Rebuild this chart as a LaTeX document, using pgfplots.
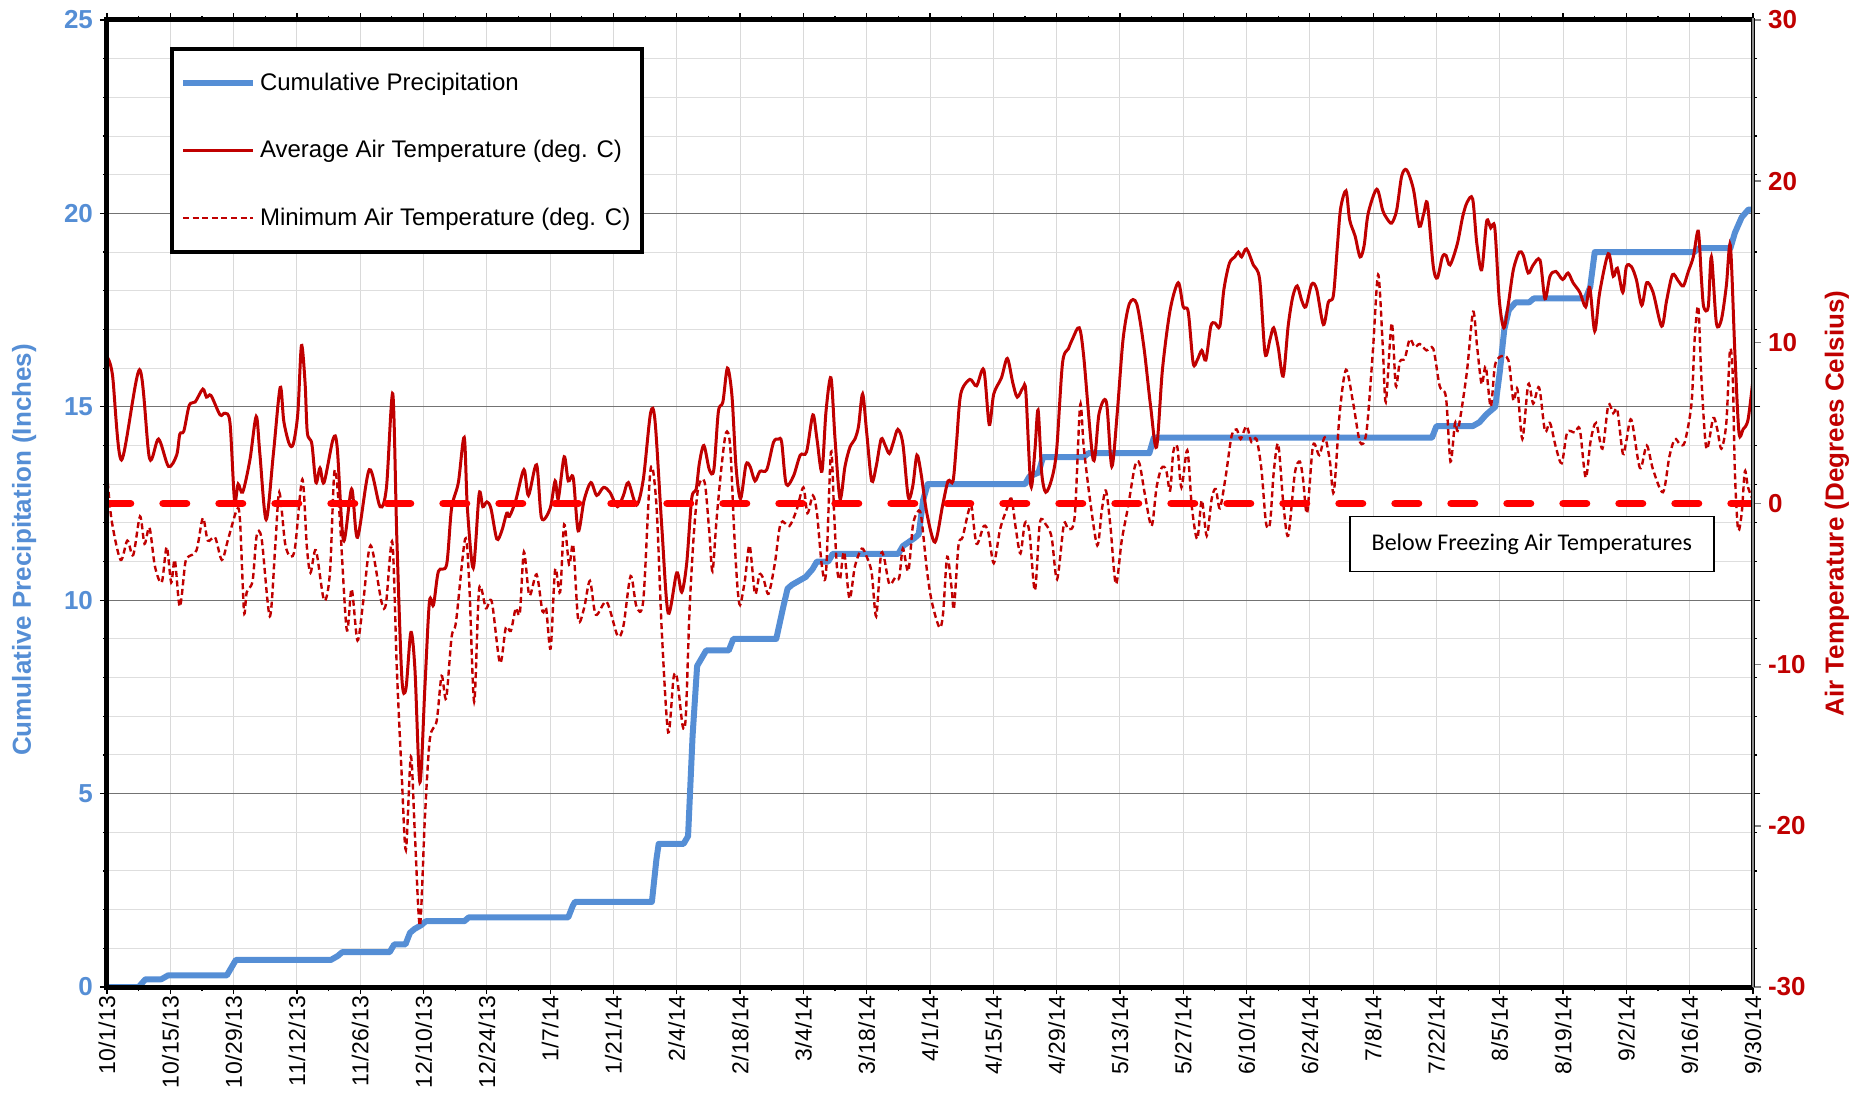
\documentclass[border=0pt]{standalone}
\usepackage{pgfplots}
\pgfplotsset{compat=1.18}
\usepackage{pgfplotstable}
\usepackage{fontspec}
\setmainfont{Liberation Sans}
\newfontfamily\carlito{Carlito}
\newfontfamily\tickfont[LetterSpace=2]{Liberation Sans}
\definecolor{precipblue}{RGB}{85,142,213}
\definecolor{tempred}{RGB}{192,0,0}
\definecolor{freezered}{RGB}{255,0,0}

\pgfplotstableread{
day p
0 0
7 0
8.5 0.2
12 0.2
13.5 0.3
26.5 0.3
28 0.6
28.5 0.7
49.5 0.7
51 0.8
52 0.9
62.5 0.9
63.5 1.1
66 1.1
67 1.4
68 1.5
69.5 1.6
70.5 1.7
79 1.7
80 1.8
102 1.8
103 2.1
103.5 2.2
120.5 2.2
121.5 3.3
122 3.7
127.5 3.7
128.5 3.9
129.5 6.5
130.5 8.3
131.5 8.5
132.5 8.7
137.5 8.7
138.5 9.0
148 9.0
149.5 9.8
150.5 10.3
151.5 10.4
153 10.5
154.5 10.6
156 10.8
157 11.0
159.5 11.0
160.5 11.2
175 11.2
176 11.4
178.5 11.6
179.5 11.7
180.5 12.6
181.5 13.0
203 13.0
204 13.2
206 13.3
207 13.7
216 13.7
217 13.8
230.5 13.8
231.5 14.2
293 14.2
294 14.5
302 14.5
303.5 14.6
305 14.8
307 15.0
308 15.9
309 17.0
310 17.5
311.5 17.7
314.5 17.7
315.5 17.8
327 17.8
328 18.1
329 19.0
351 19.0
352 19.1
359 19.1
360 19.5
361.5 19.9
363 20.1
364 20.1
}\precip

\pgfplotstableread{
day t
0 9.1
1.2 8.0
3.2 2.7
7.2 8.3
9.4 2.8
11.4 4.0
13.6 2.3
15.4 3.0
16.1 4.3
17 4.5
18.2 6.1
19.5 6.3
21.2 7.1
22 6.6
23 6.7
25 5.5
26.1 5.6
27.2 5.0
28.2 0.2
29 1.2
30 0.7
31.6 2.7
33 5.4
33.8 3.1
35.2 -1.0
36.8 3.1
38.3 7.2
39.1 5.1
40.3 3.7
41.2 3.7
42.2 5.6
43 9.8
43.8 7.5
44.3 4.4
45.3 3.7
46.2 1.3
47.1 2.2
48 1.3
50 4.0
50.9 3.5
52.3 -2.3
54.1 0.9
55.4 -2.1
58 2.1
60.4 -0.2
61.8 1.0
63.2 6.8
64.1 -2.2
65.2 -10.8
66.1 -11.5
67.2 -8.0
68.1 -10.3
69.2 -17.3
70.3 -11.4
71.3 -6.1
72.2 -6.3
73.3 -4.2
75.1 -3.8
76.2 -0.3
77.7 1.3
79 4.1
79.7 -0.3
81 -4.0
82.3 0.6
83.1 -0.2
84 0.1
84.9 -0.3
86.2 -2.2
87.3 -1.7
88.4 -0.6
89 -0.8
90.4 0.2
92.2 2.1
93.2 0.5
95 2.4
96.1 -0.9
98 -0.3
99.1 1.4
99.8 0.3
101.1 2.9
102 1.4
103.1 1.6
104.2 -1.7
105.5 0.2
107 1.3
108.3 0.5
109.8 1.0
111.2 0.7
112.9 -0.2
114.2 0.5
115.3 1.3
117.1 -0.1
118.6 1.5
120.2 5.6
121.2 5.1
122.7 -1.5
124.1 -6.8
126 -4.3
127.1 -5.5
128.2 -3.7
129.3 0.3
130.3 0.9
131 2.5
132 3.6
133.2 2.1
134.2 2.1
135.2 5.7
136.2 6.3
137.2 8.4
138.2 6.7
139.1 2.3
140.1 0.3
141.3 2.4
142.2 2.3
143.3 1.4
144.4 2.0
145.9 2.1
147.4 3.8
148.5 4.0
149.2 3.8
150.2 1.2
151.8 1.7
153.3 3.0
154.7 3.2
156.1 5.5
157 4.0
158.1 2.0
159 5.7
160.1 7.8
161 4.0
162.1 0.3
163.2 2.3
164.3 3.5
165.4 4.0
166.2 4.8
167.1 6.8
168 4.4
169.1 1.4
170.1 2.3
171.2 4.0
172.1 3.6
173 3.1
173.9 3.8
174.9 4.6
176 3.7
177.2 0.4
178.2 1.1
179.1 3.0
180 1.9
181.3 -0.6
183.1 -2.4
184.8 -0.1
186 1.4
187.1 1.4
187.9 3.9
188.8 6.8
190.8 7.7
192.3 7.3
193.9 8.3
195.1 4.9
196.1 6.8
197.8 7.8
199.1 9.0
200.3 7.5
201.3 6.6
202.6 7.2
203.2 6.9
204.3 1.1
205.2 3.3
205.9 5.8
206.7 1.9
207.6 0.7
208.9 1.5
210 3.3
211.3 8.7
212.6 9.6
213.5 10.2
215 10.9
216 9.1
218.1 2.7
219.4 5.6
221 6.3
222.2 2.3
223.4 5.6
224.7 10.2
226.1 12.4
227.7 12.4
229.3 9.7
230.8 6.0
232.1 3.5
233.4 8.3
235.1 12.0
236.9 13.7
238 12.2
239.1 11.9
240.2 8.7
241.1 8.9
242.1 9.5
243 8.9
244.1 11.0
245 11.2
246.1 11.0
247 13.3
248.2 14.9
249.4 15.3
250.2 15.6
250.9 15.3
252 15.8
253.5 14.8
254.9 13.9
256.1 9.3
257.2 10.2
258 10.9
259 9.7
260.1 7.9
261.2 11.0
262.2 12.8
263.2 13.5
264.2 12.6
265.1 12.2
266.4 13.6
267.5 13.3
269 11.1
270.1 12.5
271.2 12.9
272.1 16.0
272.8 18.3
274 19.4
274.8 17.6
276 16.6
277.1 15.3
278 16.0
278.9 18.0
280.8 19.5
282.1 18.2
283 17.7
284.1 17.4
285.2 18.2
286.3 20.3
287.4 20.7
288.9 19.5
290.2 17.2
291.2 18.0
292 18.6
293.3 14.7
294.2 14.0
295.3 15.3
296.1 15.4
297 14.8
298.6 16.1
299.8 17.8
300.8 18.7
302 18.9
302.9 16.2
304 14.5
305.1 17.5
306 17.1
306.9 17.1
307.9 12.6
308.9 10.9
309.9 12.4
311 14.5
312.3 15.6
313.2 15.4
314.3 14.3
315.4 14.8
316.9 15.1
318 12.7
319.1 14.1
320.4 14.4
321.9 13.9
323.1 14.3
324.2 13.7
325.7 13.1
327 12.2
327.9 13.4
329 10.7
330.1 13.1
332 15.5
333.1 14.1
334 14.6
335.2 13.1
336 14.7
337.1 14.7
338.2 13.9
339.4 12.3
340.5 13.7
341.9 13.1
343.8 11.0
344.9 12.6
346.2 14.2
347.5 13.8
348.6 13.5
349.7 14.4
350.8 15.3
351.9 16.9
352.6 13.9
353.1 12.2
354.1 12.2
354.8 15.3
355.9 11.2
357 11.4
358.1 13.5
359 16.0
360 9.3
360.9 4.4
361.8 4.6
362.9 5.2
364 7.7
}\avgT

\pgfplotstableread{
day t
0 1.9
1 -1.0
3 -3.5
4.5 -2.3
5.8 -3.2
7.3 -0.8
8.3 -2.5
9.4 -1.5
10.6 -3.9
12.1 -4.9
13.2 -2.7
14.2 -4.9
15 -3.5
16.1 -6.4
17.3 -3.7
18 -3.3
19.8 -2.9
21.2 -0.9
22.3 -2.3
23.9 -2.1
25.4 -3.5
26.8 -2.2
28.7 -0.4
29.4 -1.0
30.3 -6.7
30.9 -5.5
32.2 -4.8
33.1 -2.0
34.2 -2.2
36 -7.0
37.2 -2.7
38.1 0.7
39.4 -2.5
40.6 -3.3
41.6 -2.7
43.2 1.5
44.2 -2.7
45 -4.3
46.2 -2.9
48 -6.0
49.3 -4.3
50.3 2.0
51.4 -0.6
53 -7.8
54.1 -5.3
55.4 -8.5
56.7 -6.0
58.3 -2.6
60.7 -6.1
61.7 -6.2
63.1 -2.4
64.1 -10.3
65.2 -17.0
66.1 -21.5
67.2 -15.7
68.1 -20.6
69.2 -26.2
70.3 -19.5
71.4 -14.6
72.9 -13.5
74 -10.7
75 -12.1
76.2 -8.3
77.2 -7.3
79.2 -2.2
80.1 -4.9
81.2 -12.3
82.3 -5.3
83.8 -6.5
85.1 -6.1
86.9 -9.9
88.2 -7.7
89.3 -7.9
90.4 -6.5
91.3 -6.8
92.2 -3.0
93.4 -5.7
95 -4.4
96.3 -6.7
97.1 -6.5
98.1 -9.0
99.1 -4.1
100.2 -5.5
101.1 -1.3
102.2 -3.8
103.1 -2.6
104.2 -7.2
105.5 -6.5
106.8 -4.8
108.1 -6.9
110.5 -6.1
112.9 -8.2
114.2 -7.6
115.8 -4.5
117.1 -6.4
118.6 -6.0
120.2 2.1
121.5 -0.1
122.7 -8.0
124.1 -14.2
125.3 -10.8
126.1 -10.9
127.3 -13.8
128 -13.2
128.8 -6.8
129.7 -2.2
130.6 0.7
131.5 1.5
132.3 1.1
133.2 -1.8
133.9 -4.2
134.8 -1.0
135.9 2.3
136.9 4.4
137.8 3.6
138.7 -1.8
139.4 -5.1
140 -6.3
141.1 -4.7
142.1 -2.6
143.3 -5.6
144.3 -4.4
145.2 -4.7
146.3 -5.6
147.7 -3.7
149 -1.2
150.9 -1.4
152.5 -0.4
154 1.0
154.9 -0.6
156.1 0.5
157 -0.6
158.1 -3.9
159 -4.3
160.1 3.2
160.8 -0.6
161.4 -3.9
162.1 -4.7
163 -3.0
164.2 -5.9
165.4 -3.9
166.9 -2.8
168 -3.3
169.1 -4.3
170.1 -7.0
171.1 -3.3
171.8 -3.3
173 -5.0
174.3 -4.6
175.2 -4.6
176 -2.8
177.2 -4.2
178.2 -1.4
179.1 -0.6
180 -0.7
181.3 -4.1
182.4 -6.1
184.1 -7.7
184.9 -6.8
185.8 -3.3
186.8 -5.3
187.3 -6.5
188.3 -2.6
189.2 -2.1
190.5 -0.5
191.2 -0.2
192.3 -2.5
193.9 -1.4
194.9 -1.8
196.1 -3.7
197.5 -1.6
198.9 -0.4
200 0.3
201 -1.6
202 -3.1
203 -1.2
204 -1.8
205.2 -5.4
206.3 -1.2
207.6 -1.3
208.9 -2.1
210.1 -4.7
211.6 -1.3
212.6 -1.6
214 -0.8
215.2 6.1
216 3.5
217.4 0.2
219 -2.6
220 -0.4
220.9 0.8
221.9 -1.4
223.1 -5.0
224.4 -2.3
225.8 -0.2
227.3 2.3
228.3 2.5
229.5 0.6
231 -1.4
232.1 1.0
233.2 2.2
234.2 2.1
235.1 0.8
235.8 3.2
236.7 3.5
237.6 1.0
238.9 3.3
239.9 -0.2
241.1 -2.2
242.1 0.2
243.2 -2.0
244.3 0.3
245.2 0.9
246.1 -0.3
247.4 1.7
248.7 4.2
249.8 4.6
250.7 4.0
252 4.8
253.1 3.8
254.2 4.0
255.3 2.1
256.3 -1.2
257.2 -1.2
258 1.9
259 3.7
260.1 0.1
261.2 -2.0
262.7 1.9
263.8 2.6
264.5 1.5
265.4 -0.6
266.7 3.6
268.1 3.0
269.3 4.1
270.4 2.7
271.3 0.7
272.6 5.6
274 8.3
275.6 6.2
277.1 3.8
278.5 4.4
279.9 9.3
281.1 14.2
282.1 9.9
282.8 6.3
284.1 11.2
285 7.3
285.9 8.8
287 9.0
288.1 10.2
289.2 9.7
290.3 9.9
291.8 9.5
293.3 9.6
294.7 7.3
296.1 6.6
297.1 2.6
298.1 5.0
298.8 4.6
300.7 8.1
302.1 11.9
303 9.7
304 7.4
304.9 8.5
306 6.0
306.9 8.5
308 9.1
309.9 8.9
311 6.4
311.9 7.1
313 4.0
314.3 7.4
315.4 6.2
316.7 7.2
318 4.5
319.1 5.0
320.4 3.5
321.7 2.5
322.9 4.4
324.6 4.4
325.7 4.6
327 1.6
328.1 3.9
329.3 5.0
330.7 3.4
332 6.1
333.1 5.6
334 5.8
335.2 3.1
336 3.9
337.1 5.2
339 2.2
340.5 3.6
341.9 2.1
344.1 0.7
345.5 2.9
346.7 4.0
347.8 3.7
348.9 3.8
350.4 6.2
351.1 10.2
351.9 12.2
352.6 7.7
353.7 3.4
355.2 5.3
356.1 4.6
357 3.4
358.1 5.0
358.9 9.5
359.5 8.1
360 1.9
360.7 -1.6
361.5 -0.6
362.2 2.0
362.9 1.0
364 0.2
}\minT

\begin{document}
\begin{tikzpicture}
\path[use as bounding box] (-53.5pt,-53.5pt) rectangle (876.5pt,493.5pt);
\begin{axis}[
  scale only axis, width=823pt, height=483.5pt,
  at={(0pt,0pt)}, anchor=south west,
  xmin=0, xmax=364, ymin=0, ymax=25,
  axis line style={draw=none},
  xtick={0,14,...,364},
  xticklabels={10/1/13,10/15/13,10/29/13,11/12/13,11/26/13,12/10/13,12/24/13,1/7/14,1/21/14,2/4/14,2/18/14,3/4/14,3/18/14,4/1/14,4/15/14,4/29/14,5/13/14,5/27/14,6/10/14,6/24/14,7/8/14,7/22/14,8/5/14,8/19/14,9/2/14,9/16/14,9/30/14},
  minor x tick num=1,
  ytick={0,5,...,25}, yticklabels={0,5,10,15,20,25},
  minor y tick num=4,
  tick align=outside,
  major tick length=3.5pt, minor tick length=2pt,
  xmajorgrids, ymajorgrids, yminorgrids,
  major x grid style={draw=black!15, line width=0.5pt},
  major y grid style={draw=black!55, line width=0.6pt},
  minor y grid style={draw=black!13, line width=0.5pt},
  tick style={black, line width=0.6pt},
  x tick label style={rotate=90, anchor=east, font=\tickfont\fontsize{11.5}{13}\selectfont, inner sep=0.5pt},
  y tick label style={font=\bfseries\fontsize{13}{15}\selectfont, text=precipblue},
  ylabel={Cumulative Precipitation (Inches)},
  ylabel style={at={(axis description cs:-0.0504,0.452)}, anchor=center, font=\bfseries\fontsize{13}{15}\selectfont, text=precipblue},
]
\addplot[precipblue, line width=3pt, line join=round] table[x=day,y=p]{\precip};
\end{axis}
\begin{axis}[
  scale only axis, width=823pt, height=483.5pt,
  at={(0pt,0pt)}, anchor=south west,
  xmin=0, xmax=364, ymin=-30, ymax=30,
  axis x line=none, axis y line*=right,
  y axis line style={draw=none},
  ytick={-30,-20,...,30}, yticklabels={-30,-20,-10,0,10,20,30},
  tick align=outside, major tick length=4pt,
  y tick style={black!50, line width=0.8pt},
  y tick label style={font=\bfseries\fontsize{13}{15}\selectfont, text=tempred},
  ylabel={Air Temperature (Degrees Celsius)},
  ylabel style={at={(axis description cs:1.051,0.5)}, anchor=center, rotate=0, font=\bfseries\fontsize{13}{15}\selectfont, text=tempred},
  legend image code/.code={\draw[#1] plot coordinates {(0pt,0pt) (17.5pt,0pt) (35pt,0pt)};},
  legend cell align=left,
  legend style={at={(axis description cs:0.0383,0.972)}, anchor=north west, draw=black, line width=2pt, fill=white, font=\fontsize{12}{14}\selectfont, row sep=19.5pt, inner xsep=4pt, inner ysep=10pt, nodes={inner sep=2pt}},
]
\addlegendimage{precipblue, line width=3pt}
\addlegendentry{Cumulative Precipitation}
\addplot[tempred, line width=1.5pt, smooth, tension=0.5] table[x=day,y=t]{\avgT};
\addlegendentry{Average Air Temperature (deg. C)}
\addplot[tempred, line width=1.2pt, dash pattern=on 3pt off 1.8pt, smooth, tension=0.5] table[x=day,y=t]{\minT};
\addlegendentry{Minimum Air Temperature (deg. C)}
\addplot[freezered, line width=3.7pt, dash pattern=on 11.8pt off 16.2pt, line cap=round, forget plot] coordinates {(0,0) (364,0)};
\node[draw=black, line width=0.75pt, fill=white, minimum width=182pt, minimum height=27.5pt, inner sep=0pt, font=\carlito\fontsize{12}{14}\selectfont] at (axis cs:315.1,-2.5) {Below Freezing Air Temperatures};
\end{axis}
\draw[line width=2.5pt] (823pt,483.5pt) -- (0pt,483.5pt) -- (0pt,0pt) -- (823pt,0pt);
\draw[line width=0.6pt, double=black!45, double distance=1.2pt] (823pt,0pt) -- (823pt,484.5pt);
\end{tikzpicture}
\end{document}
